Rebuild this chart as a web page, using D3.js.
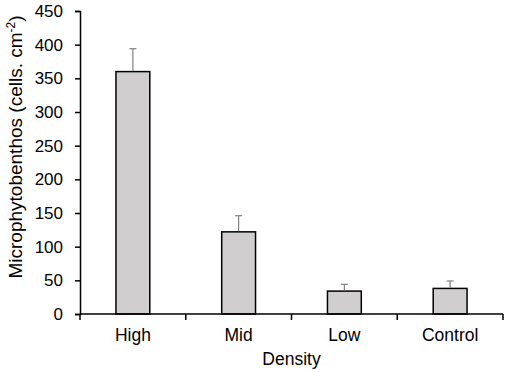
<!DOCTYPE html>
<html>
<head>
<meta charset="utf-8">
<script src="https://cdn.jsdelivr.net/npm/d3@7"></script>
<style>
  html, body { margin: 0; padding: 0; background: #fff; }
  svg { display: block; }
  text { font-family: "Liberation Sans", Arial, sans-serif; fill: #000; }
</style>
</head>
<body>
<svg id="chart" width="510" height="372"></svg>
<script>
const categories = ["High", "Mid", "Low", "Control"];
const means = [360, 122, 34, 38];
const errors = [34, 24, 10, 11];
const yTicks = [0, 50, 100, 150, 200, 250, 300, 350, 400, 450];
const xTitle = "Density";
const yTitle = "Microphytobenthos (cells. cm";

const svg = d3.select("#chart");
const margin = { left: 80, right: 7, top: 11, bottom: 58 };
const W = 510, H = 372;
const FONT = "Liberation Sans, Arial, sans-serif";

const x = d3.scaleBand().domain(categories)
  .range([margin.left, W - margin.right]).paddingInner(0.68).paddingOuter(0.34);
const y = d3.scaleLinear().domain([0, 450]).range([H - margin.bottom, margin.top]);

// Bars
const g = svg.append("g");
g.selectAll("rect.bar").data(categories).join("rect")
  .attr("class", "bar")
  .attr("x", d => x(d))
  .attr("width", x.bandwidth())
  .attr("y", (d, i) => y(means[i]))
  .attr("height", (d, i) => y(0) - y(means[i]))
  .attr("fill", "#d0cece")
  .attr("stroke", "#000")
  .attr("stroke-width", 1.5);

// Error bars
const eb = g.selectAll("g.err").data(categories).join("g").attr("class", "err");
eb.append("line")
  .attr("x1", d => x(d) + x.bandwidth() / 2)
  .attr("x2", d => x(d) + x.bandwidth() / 2)
  .attr("y1", (d, i) => y(means[i]) - 0.75)
  .attr("y2", (d, i) => y(means[i] + errors[i]))
  .attr("stroke", "#808080").attr("stroke-width", 1.2);
eb.append("line")
  .attr("x1", d => x(d) + x.bandwidth() / 2 - 3.5)
  .attr("x2", d => x(d) + x.bandwidth() / 2 + 3.5)
  .attr("y1", (d, i) => y(means[i] + errors[i]))
  .attr("y2", (d, i) => y(means[i] + errors[i]))
  .attr("stroke", "#808080").attr("stroke-width", 1.2);

// Y axis
const yAxis = svg.append("g")
  .attr("transform", `translate(${margin.left},0)`)
  .call(d3.axisLeft(y).tickValues(yTicks).tickSize(5).tickPadding(12));
yAxis.select(".domain").attr("stroke", "#000").attr("stroke-width", 1.5);
yAxis.selectAll(".tick line").attr("stroke", "#000").attr("stroke-width", 1.5);
yAxis.selectAll(".tick text").attr("font-size", 17)
  .attr("font-family", FONT).attr("fill", "#000");

// X axis: baseline with boundary ticks
const xAxis = svg.append("g")
  .attr("transform", `translate(0,${y(0)})`)
  .call(d3.axisBottom(x).tickSize(0).tickPadding(15));
xAxis.select(".domain").attr("stroke", "#000").attr("stroke-width", 1.5)
  .attr("d", `M${margin.left},0H${W - margin.right}`);
xAxis.selectAll(".tick text").attr("font-size", 17.5)
  .attr("font-family", FONT).attr("fill", "#000");
const step = x.step();
const boundaries = d3.range(categories.length + 1).map(i => margin.left + i * step);
xAxis.selectAll("line.bound").data(boundaries).join("line")
  .attr("class", "bound")
  .attr("x1", d => d).attr("x2", d => d)
  .attr("y1", 0).attr("y2", 6)
  .attr("stroke", "#000").attr("stroke-width", 1.5);

// Axis titles
svg.append("text")
  .attr("x", (margin.left + W - margin.right) / 2)
  .attr("y", 365)
  .attr("text-anchor", "middle")
  .attr("font-size", 17.5)
  .text(xTitle);

const yt = svg.append("text")
  .attr("transform", `translate(22,147) rotate(-90)`)
  .attr("text-anchor", "middle")
  .attr("font-size", 19);
yt.append("tspan").text(yTitle);
yt.append("tspan").attr("dy", -7).attr("font-size", 12).text("-2");
yt.append("tspan").attr("dy", 7).text(")");
</script>
</body>
</html>
